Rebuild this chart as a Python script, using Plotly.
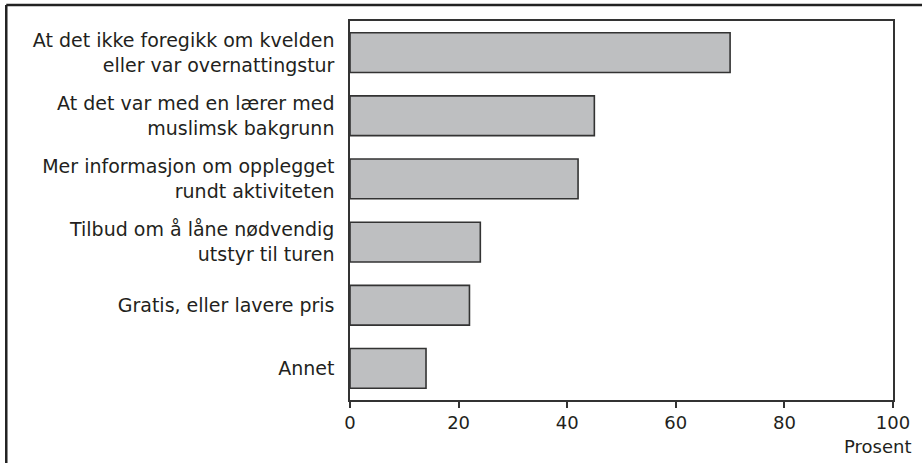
import plotly.graph_objects as go

categories = [
    "At det ikke foregikk om kvelden<br>eller var overnattingstur",
    "At det var med en lærer med<br>muslimsk bakgrunn",
    "Mer informasjon om opplegget<br>rundt aktiviteten",
    "Tilbud om å låne nødvendig<br>utstyr til turen",
    "Gratis, eller lavere pris",
    "Annet",
]
values = [70, 45, 42, 24, 22, 14]
x_ticks = [0, 20, 40, 60, 80, 100]

W, H = 922, 463
L, R, T, B = 350, 27, 21, 63
pw, ph = W - L - R, H - T - B

fig = go.Figure()
fig.add_trace(go.Bar(
    x=values, y=categories, orientation="h",
    marker=dict(color="#bebfc1", line=dict(color="#333333", width=1.6)),
    hoverinfo="skip",
))

fig.update_layout(
    width=W, height=H,
    margin=dict(l=L, r=R, t=T, b=B),
    paper_bgcolor="white", plot_bgcolor="white",
    font=dict(family="DejaVu Sans", size=19, color="#231f20"),
    showlegend=False, bargap=0.37,
    xaxis=dict(
        range=[0, 100], tickvals=x_ticks, ticks="outside", ticklen=6,
        tickcolor="#333333", tickwidth=1.5, showgrid=False, zeroline=False,
        showline=True, linecolor="#333333", linewidth=1.5, mirror=True,
        tickfont=dict(size=18),
    ),
    yaxis=dict(
        autorange="reversed", showgrid=False, zeroline=False,
        showline=True, linecolor="#333333", linewidth=1.5, mirror=True,
        ticks="", ticklabelstandoff=10, tickfont=dict(size=19),
    ),
)

fig.add_annotation(
    text="Prosent", xref="paper", yref="paper", x=(915 - L) / pw, y=-(446 - 400) / ph,
    xanchor="right", yanchor="middle", showarrow=False, font=dict(size=18),
)

# outer frame (top and left edge visible)
fx = (5 - L) / pw
fy = (H - B - 5) / ph
fig.add_shape(type="line", xref="paper", yref="paper", x0=fx, x1=1.2, y0=fy, y1=fy,
              line=dict(color="#222222", width=2.5))
fig.add_shape(type="line", xref="paper", yref="paper", x0=fx, x1=fx, y0=fy, y1=-0.5,
              line=dict(color="#222222", width=2.5))

fig.write_html("out.html", config={"displayModeBar": False},
               post_script="document.body.style.margin='0';")
